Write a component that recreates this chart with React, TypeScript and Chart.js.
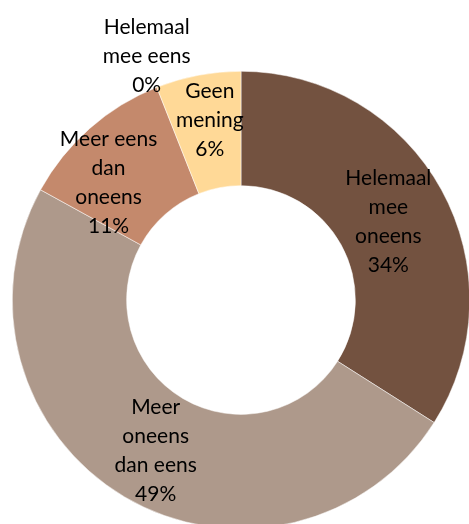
import React, { useEffect, useRef } from "react";
import { Chart, registerables } from "chart.js";

Chart.register(...registerables);

const categories: string[][] = [
  ["Helemaal", "mee", "oneens"],
  ["Meer", "oneens", "dan eens"],
  ["Meer eens", "dan", "oneens"],
  ["Helemaal", "mee eens"],
  ["Geen", "mening"],
];
const values: number[] = [34, 49, 11, 0, 6];
const percentLabels: string[] = ["34%", "49%", "11%", "0%", "6%"];
const colors: string[] = ["#735240", "#AE998B", "#C4896C", "#8E8E8E", "#FFD997"];

// label nudges (pixels), styling only
const nudges: [number, number][] = [[-3, 4], [2, 3], [-19, 11], [5, 7], [1, -11]];

const labelPlugin = {
  id: "sliceLabels",
  afterDatasetsDraw(chart: any) {
    const ctx = chart.ctx;
    const meta = chart.getDatasetMeta(0);
    ctx.save();
    ctx.font = '21px Lato, "Open Sans", sans-serif';
    ctx.fillStyle = "#000000";
    ctx.textAlign = "center";
    ctx.textBaseline = "middle";
    const lineH = 29;
    meta.data.forEach((arc: any, i: number) => {
      const p = arc.getProps(["x", "y", "startAngle", "endAngle", "innerRadius", "outerRadius"], true);
      const mid = (p.startAngle + p.endAngle) / 2;
      const r = values[i] === 0 ? p.outerRadius + 41 : (p.innerRadius + p.outerRadius) / 2;
      const cx = p.x + Math.cos(mid) * r + nudges[i][0];
      const cy = p.y + Math.sin(mid) * r + nudges[i][1];
      const lines = [...categories[i], percentLabels[i]];
      const top = cy - ((lines.length - 1) * lineH) / 2;
      lines.forEach((t, j) => ctx.fillText(t, cx, top + j * lineH));
    });
    ctx.restore();
  },
};

export default function App() {
  const ref = useRef<HTMLCanvasElement>(null);
  useEffect(() => {
    const chart = new Chart(ref.current!, {
      type: "doughnut",
      data: {
        labels: categories.map((c) => c.join(" ")),
        datasets: [
          {
            data: values,
            backgroundColor: colors,
            borderColor: "#ffffff",
            borderWidth: 0.5,
          },
        ],
      },
      options: {
        responsive: false,
        animation: false,
        cutout: "50%",
        layout: { padding: { left: 12, top: 71, right: 12, bottom: 71 } },
        plugins: { legend: { display: false }, tooltip: { enabled: false } },
      },
      plugins: [labelPlugin],
    });
    return () => chart.destroy();
  }, []);
  return (
    <div style={{ position: "fixed", left: 0, top: 0, width: 469, height: 524, overflow: "hidden", background: "#fff" }}>
      <canvas ref={ref} width={482} height={600} style={{ display: "block" }} />
    </div>
  );
}
